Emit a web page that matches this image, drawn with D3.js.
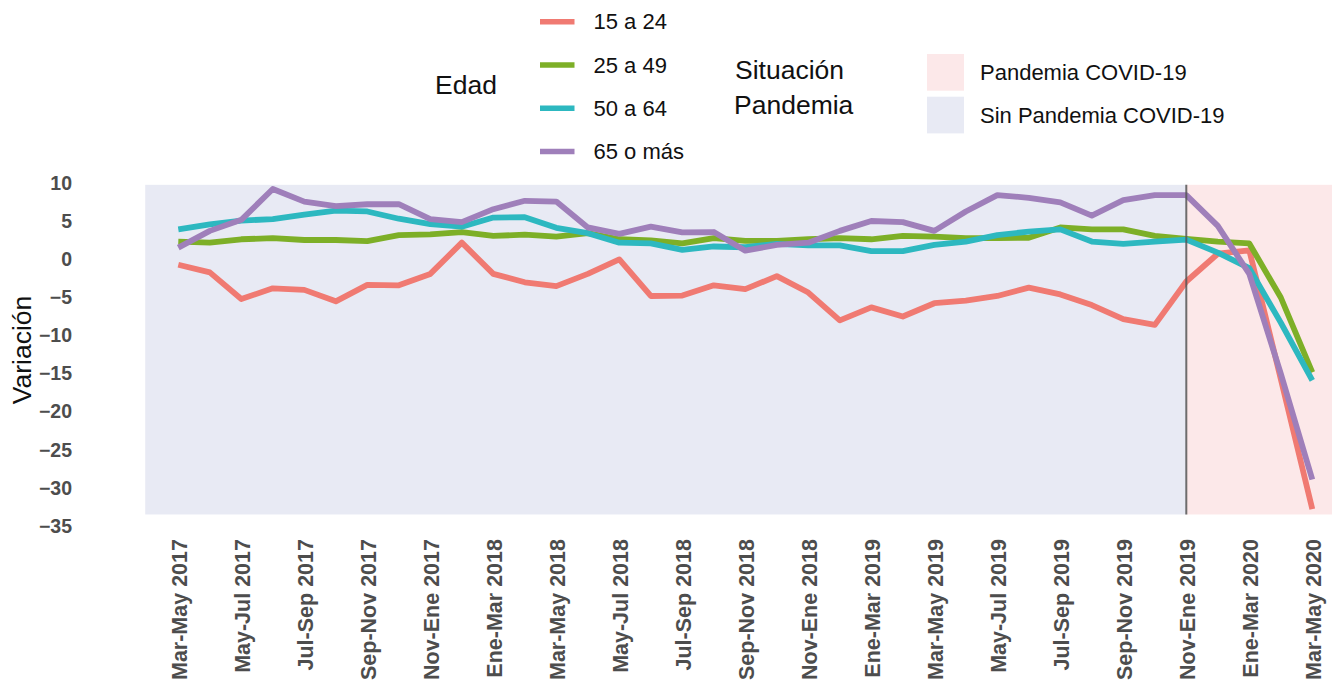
<!DOCTYPE html>
<html>
<head>
<meta charset="utf-8">
<script src="https://cdn.jsdelivr.net/npm/d3@7"></script>
<style>
  body { margin: 0; background: #fff; }
  svg text { font-family: "Liberation Sans", Arial, sans-serif; }
</style>
</head>
<body>
<div id="chart"></div>
<script>
// periods (rolling quarters)
var periods = [
  "Mar-May 2017", "Abr-Jun 2017", "May-Jul 2017", "Jun-Ago 2017", "Jul-Sep 2017",
  "Ago-Oct 2017", "Sep-Nov 2017", "Oct-Dic 2017", "Nov-Ene 2017", "Dic-Feb 2017",
  "Ene-Mar 2018", "Feb-Abr 2018", "Mar-May 2018", "Abr-Jun 2018", "May-Jul 2018",
  "Jun-Ago 2018", "Jul-Sep 2018", "Ago-Oct 2018", "Sep-Nov 2018", "Oct-Dic 2018",
  "Nov-Ene 2018", "Dic-Feb 2018", "Ene-Mar 2019", "Feb-Abr 2019", "Mar-May 2019",
  "Abr-Jun 2019", "May-Jul 2019", "Jun-Ago 2019", "Jul-Sep 2019", "Ago-Oct 2019",
  "Sep-Nov 2019", "Oct-Dic 2019", "Nov-Ene 2019", "Dic-Feb 2019", "Ene-Mar 2020",
  "Feb-Abr 2020", "Mar-May 2020"
];

var edad15_24 = [-0.7, -1.7, -5.2, -3.8, -4.0, -5.5, -3.35, -3.4, -1.9, 2.2,
  -1.9, -3.0, -3.5, -1.9, 0.0, -4.8, -4.75, -3.4, -3.9, -2.2,
  -4.35, -8.0, -6.3, -7.5, -5.75, -5.4, -4.8, -3.7, -4.6, -6.0,
  -7.85, -8.6, -2.9, 0.75, 1.2, -15.7, -32.8];
var edad25_49 = [2.35, 2.2, 2.65, 2.8, 2.55, 2.55, 2.4, 3.2, 3.3, 3.6,
  3.1, 3.25, 3.0, 3.45, 2.65, 2.5, 2.1, 2.8, 2.45, 2.45,
  2.65, 2.8, 2.65, 3.1, 3.0, 2.8, 2.8, 2.85, 4.2, 3.95,
  3.95, 3.1, 2.7, 2.35, 2.1, -5.0, -14.85];
var edad50_64 = [3.95, 4.6, 5.1, 5.3, 5.9, 6.4, 6.3, 5.35, 4.65, 4.3,
  5.5, 5.55, 4.15, 3.45, 2.2, 2.1, 1.25, 1.7, 1.6, 2.05,
  1.85, 1.85, 1.1, 1.1, 1.9, 2.35, 3.2, 3.65, 3.95, 2.35,
  2.05, 2.35, 2.6, 0.9, -1.15, -8.3, -15.9];
var edad65mas = [1.55, 3.75, 5.2, 9.25, 7.6, 7.0, 7.25, 7.25, 5.3, 4.9,
  6.6, 7.7, 7.6, 4.2, 3.35, 4.3, 3.55, 3.6, 1.15, 1.9,
  2.2, 3.75, 5.05, 4.9, 3.75, 6.3, 8.45, 8.1, 7.5, 5.75,
  7.8, 8.45, 8.45, 4.4, -1.9, -15.0, -28.9];

var seriesNames = ["15 a 24", "25 a 49", "50 a 64", "65 o más"];
var seriesColors = ["#f07a72", "#7daf27", "#2db8c0", "#9f7fba"];
var yTicks = [10, 5, 0, -5, -10, -15, -20, -25, -30, -35];
var pandemiaNames = ["Pandemia COVID-19", "Sin Pandemia COVID-19"];
var pandemiaColors = ["#fce8e9", "#e8eaf4"];
var pandemiaStart = 32; // Nov-Ene 2019

var series = [edad15_24, edad25_49, edad50_64, edad65mas];

var svg = d3.select("#chart").append("svg")
  .attr("width", 1332)
  .attr("height", 685);

var x = d3.scaleLinear().domain([0, periods.length - 1]).range([178.3, 1312.3]);
var y = d3.scaleLinear().domain([10, -35]).range([183.3, 525.9]);

// shaded backgrounds
var bgTop = y(9.8), bgBot = y(-33.5);
svg.append("rect")
  .attr("x", x(-1.05)).attr("y", bgTop)
  .attr("width", x(pandemiaStart) - x(-1.05)).attr("height", bgBot - bgTop)
  .attr("fill", pandemiaColors[1]);
svg.append("rect")
  .attr("x", x(pandemiaStart)).attr("y", bgTop)
  .attr("width", x(36.7) - x(pandemiaStart)).attr("height", bgBot - bgTop)
  .attr("fill", pandemiaColors[0]);

// lines
var line = d3.line()
  .x(function(d, i) { return x(i); })
  .y(function(d) { return y(d); });

svg.selectAll("path.serie")
  .data(series)
  .enter().append("path")
    .attr("class", "serie")
    .attr("d", line)
    .attr("fill", "none")
    .attr("stroke", function(d, i) { return seriesColors[i]; })
    .attr("stroke-width", 5.8)
    .attr("stroke-linejoin", "round");

// vertical marker at the start of the pandemic
svg.append("line")
  .attr("x1", x(pandemiaStart)).attr("x2", x(pandemiaStart))
  .attr("y1", bgTop).attr("y2", bgBot)
  .attr("stroke", "#555").attr("stroke-opacity", 0.85)
  .attr("stroke-width", 2);

// y axis
var yAxis = svg.append("g")
  .attr("transform", "translate(72,0)")
  .call(d3.axisLeft(y).tickValues(yTicks).tickSize(0).tickPadding(0));
yAxis.select(".domain").remove();
yAxis.selectAll("text")
  .attr("font-size", 19.5).attr("font-weight", "bold")
  .attr("fill", "#4d4d4d")
  .style("font-family", "'Liberation Sans', Arial, sans-serif");

// x axis
var xAxis = svg.append("g")
  .attr("transform", "translate(0,539)")
  .call(d3.axisBottom(x)
    .tickValues(d3.range(0, periods.length, 2))
    .tickFormat(function(d) { return periods[d]; })
    .tickSize(0));
xAxis.select(".domain").remove();
xAxis.selectAll("text")
  .attr("transform", "rotate(-90)")
  .attr("x", 0).attr("y", 0).attr("dy", "0.36em")
  .attr("text-anchor", "end")
  .attr("font-size", 21.5).attr("font-weight", "bold")
  .attr("fill", "#4d4d4d")
  .style("font-family", "'Liberation Sans', Arial, sans-serif");

// y title
svg.append("text")
  .attr("transform", "translate(31,350) rotate(-90)")
  .attr("text-anchor", "middle")
  .attr("font-size", 26.5)
  .attr("fill", "#111")
  .text("Variación");

// legend: Edad
svg.append("text")
  .attr("x", 435).attr("y", 85).attr("dy", "0.35em")
  .attr("font-size", 26.5).attr("fill", "#111")
  .text("Edad");

var leg = svg.selectAll("g.leg")
  .data(seriesNames)
  .enter().append("g")
    .attr("class", "leg")
    .attr("transform", function(d, i) { return "translate(540," + (21.7 + i * 43.3) + ")"; });
leg.append("line")
  .attr("x1", 0).attr("x2", 34.5)
  .attr("stroke", function(d, i) { return seriesColors[i]; })
  .attr("stroke-width", 5.5);
leg.append("text")
  .attr("x", 53.5).attr("y", 0).attr("dy", "0.35em")
  .attr("font-size", 22).attr("fill", "#111")
  .text(function(d) { return d; });

// legend: Situación Pandemia
svg.append("text")
  .attr("x", 735).attr("y", 70).attr("dy", "0.35em")
  .attr("font-size", 26.5).attr("fill", "#111")
  .text("Situación");
svg.append("text")
  .attr("x", 734).attr("y", 105).attr("dy", "0.35em")
  .attr("font-size", 26.5).attr("fill", "#111")
  .text("Pandemia");

var leg2 = svg.selectAll("g.leg2")
  .data(pandemiaNames)
  .enter().append("g")
    .attr("class", "leg2")
    .attr("transform", function(d, i) { return "translate(927," + (54 + i * 42.7) + ")"; });
leg2.append("rect")
  .attr("width", 37).attr("height", 36.7)
  .attr("fill", function(d, i) { return pandemiaColors[i]; });
leg2.append("text")
  .attr("x", 53).attr("y", 18.7).attr("dy", "0.35em")
  .attr("font-size", 22).attr("fill", "#111")
  .text(function(d) { return d; });
</script>
</body>
</html>
